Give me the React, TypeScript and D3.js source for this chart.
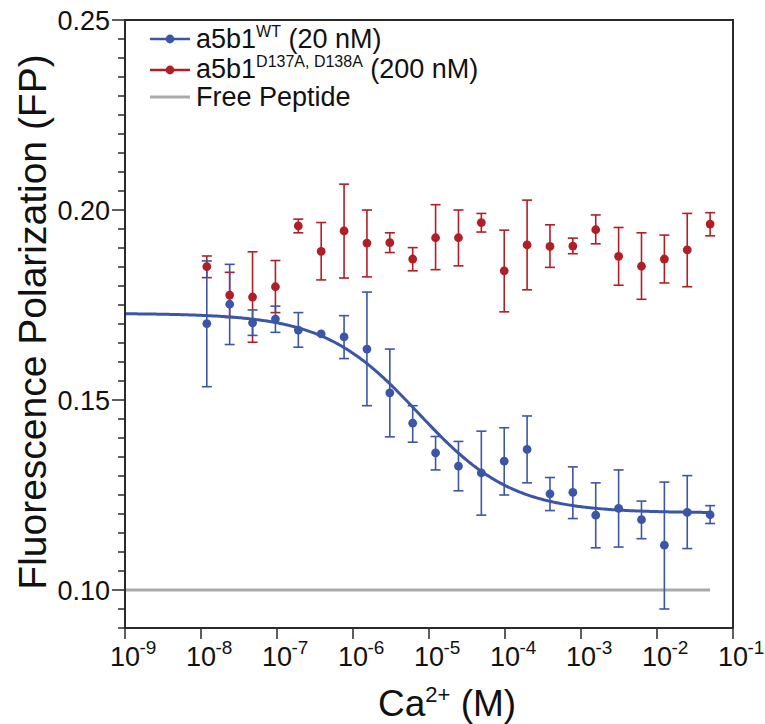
import React from "react";
import * as d3 from "d3";

// ---- data ----
const concentrations: number[] = Array.from({ length: 23 }, (_, i) => 0.05 / Math.pow(2, 22 - i));

const wtMean = [0.1701, 0.1752, 0.1703, 0.1713, 0.1684, 0.1674, 0.1666, 0.1634, 0.1519, 0.1439, 0.1361, 0.1326, 0.1308, 0.1339, 0.137, 0.1253, 0.1257, 0.1197, 0.1215, 0.1185, 0.1118, 0.1204, 0.1198];
const wtHigh = [0.1866, 0.1857, 0.1737, 0.1747, 0.173, 0.1674, 0.1722, 0.1784, 0.1634, 0.1485, 0.1404, 0.1391, 0.1418, 0.1427, 0.1458, 0.1296, 0.1324, 0.1282, 0.1316, 0.1234, 0.1284, 0.1301, 0.1222];
const wtLow = [0.1535, 0.1646, 0.167, 0.1678, 0.1639, 0.1674, 0.1609, 0.1485, 0.1403, 0.1389, 0.1316, 0.1261, 0.1197, 0.125, 0.1282, 0.1209, 0.1188, 0.1111, 0.1113, 0.1135, 0.095, 0.1109, 0.1175];

const mutMean = [0.1851, 0.1776, 0.1771, 0.1798, 0.1958, 0.1891, 0.1945, 0.1913, 0.1914, 0.1871, 0.1927, 0.1927, 0.1967, 0.184, 0.1908, 0.1904, 0.1905, 0.1948, 0.1878, 0.1852, 0.1871, 0.1895, 0.1963];
const mutHigh = [0.1879, 0.1836, 0.189, 0.1867, 0.1976, 0.1967, 0.2068, 0.2, 0.194, 0.1901, 0.2014, 0.2, 0.1991, 0.1947, 0.2026, 0.1961, 0.1926, 0.1987, 0.1954, 0.194, 0.1934, 0.1991, 0.1993];
const mutLow = [0.1822, 0.1717, 0.1652, 0.173, 0.194, 0.1816, 0.1821, 0.1824, 0.1888, 0.184, 0.1843, 0.1853, 0.1942, 0.1732, 0.179, 0.1849, 0.1885, 0.1911, 0.1802, 0.1765, 0.1808, 0.1798, 0.1932];

// fitted dose-response parameters: [top, bottom, logIC50, hill]
const fitParams = [0.1728, 0.1203, -5.14, 0.7];
const freePeptide = [0.1];

const xTickExponents = [-9, -8, -7, -6, -5, -4, -3, -2, -1];
const yMajorTicks = [0.1, 0.15, 0.2, 0.25];

const BLUE = "#3b56a7";
const RED = "#b01f26";
const GRAY = "#aaaaaa";
const AXIS = "#2a2a2a";
const FONT = "'Liberation Sans', Arial, Helvetica, sans-serif";

export default function App() {
  const x = d3.scaleLog().domain([1e-9, 1e-1]).range([125, 733]);
  const y = d3.scaleLinear().domain([0.09, 0.25]).range([628, 20]);

  const [top, bottom, logIC50, hill] = fitParams;
  const fitX = d3.range(0, 401).map((i) => Math.pow(10, -9 + (i / 400) * (Math.log10(0.05) + 9)));
  const fitLine = d3
    .line<number>()
    .x((c) => x(c))
    .y((c) => y(bottom + (top - bottom) / (1 + Math.pow(10, hill * (Math.log10(c) - logIC50)))))(fitX);

  const yMinor = d3.range(0, 33).map((i) => 0.09 + i * 0.005);

  const series = [
    { mean: mutMean, hi: mutHigh, lo: mutLow, color: RED },
    { mean: wtMean, hi: wtHigh, lo: wtLow, color: BLUE },
  ];

  return (
    <svg
      width={765}
      height={724}
      style={{ position: "absolute", left: 0, top: 0, background: "#fff" }}
      fontFamily={FONT}
    >
      <rect x={0} y={0} width={765} height={724} fill="#fff" />
      {/* free peptide */}
      <line x1={x(1e-9)} x2={x(0.05)} y1={y(freePeptide[0])} y2={y(freePeptide[0])} stroke={GRAY} strokeWidth={3} />

      {/* error bars */}
      {series.map((s, si) => (
        <g key={si}>
          {concentrations.map((c, i) => {
            const cx = x(c);
            return (
              <g key={i} stroke={s.color} strokeWidth={1.6}>
                {s.hi[i] - s.lo[i] > 0.0005 && (
                  <>
                    <line x1={cx} x2={cx} y1={y(s.hi[i])} y2={y(s.lo[i])} />
                    <line x1={cx - 5} x2={cx + 5} y1={y(s.hi[i])} y2={y(s.hi[i])} />
                    <line x1={cx - 5} x2={cx + 5} y1={y(s.lo[i])} y2={y(s.lo[i])} />
                  </>
                )}
              </g>
            );
          })}
        </g>
      ))}
      <path d={fitLine || ""} fill="none" stroke={BLUE} strokeWidth={3} />
      {series.map((s, si) => (
        <g key={"p" + si}>
          {concentrations.map((c, i) => (
            <circle key={i} cx={x(c)} cy={y(s.mean[i])} r={4.4} fill={s.color} />
          ))}
        </g>
      ))}

      {/* frame */}
      <rect x={125} y={20} width={608} height={608} fill="none" stroke={AXIS} strokeWidth={2} />

      {/* y ticks */}
      {yMinor.map((v, i) => {
        const major = yMajorTicks.some((m) => Math.abs(m - v) < 1e-6);
        return (
          <line key={i} x1={major ? 112 : 118} x2={125} y1={y(v)} y2={y(v)} stroke={AXIS} strokeWidth={1.5} />
        );
      })}
      {yMajorTicks.map((v) => (
        <text key={v} x={110} y={y(v) + 9.5} textAnchor="end" fontSize={27} fill="#111">
          {v.toFixed(2)}
        </text>
      ))}

      {/* x ticks */}
      {xTickExponents.map((e) => {
        const tx = x(Math.pow(10, e));
        return (
          <g key={e}>
            <line x1={tx} x2={tx} y1={628} y2={639} stroke={AXIS} strokeWidth={1.5} />
            <text x={tx} y={666} textAnchor="middle" fontSize={27} fill="#111">
              10
            </text>
            <text x={tx + 14.5} y={654} textAnchor="start" fontSize={19} fill="#111">
              {e}
            </text>
          </g>
        );
      })}

      {/* axis titles */}
      <text x={378} y={716} fontSize={37} fill="#111">
        Ca<tspan fontSize={22} dy={-14}>2+</tspan>
        <tspan fontSize={37} dy={14}> (M)</tspan>
      </text>
      <text
        transform={`translate(46, 322) rotate(-90)`}
        textAnchor="middle"
        fontSize={39}
        fill="#111"
      >
        Fluorescence Polarization (FP)
      </text>

      {/* legend */}
      <g>
        <line x1={150} x2={190} y1={39} y2={39} stroke={BLUE} strokeWidth={2.5} />
        <circle cx={170} cy={39} r={4.4} fill={BLUE} />
        <text x={196} y={48} fontSize={27} fill="#111">
          a5b1<tspan fontSize={16} dy={-11}>WT</tspan>
          <tspan fontSize={27} dy={11}> (20 nM)</tspan>
        </text>
        <line x1={150} x2={190} y1={70} y2={70} stroke={RED} strokeWidth={2.5} />
        <circle cx={170} cy={70} r={4.4} fill={RED} />
        <text x={196} y={78} fontSize={27} fill="#111">
          a5b1<tspan fontSize={16} dy={-11}>D137A, D138A</tspan>
          <tspan fontSize={27} dy={11}> (200 nM)</tspan>
        </text>
        <line x1={150} x2={190} y1={97} y2={97} stroke={GRAY} strokeWidth={3} />
        <text x={196} y={106} fontSize={27} fill="#111">
          Free Peptide
        </text>
      </g>
    </svg>
  );
}
